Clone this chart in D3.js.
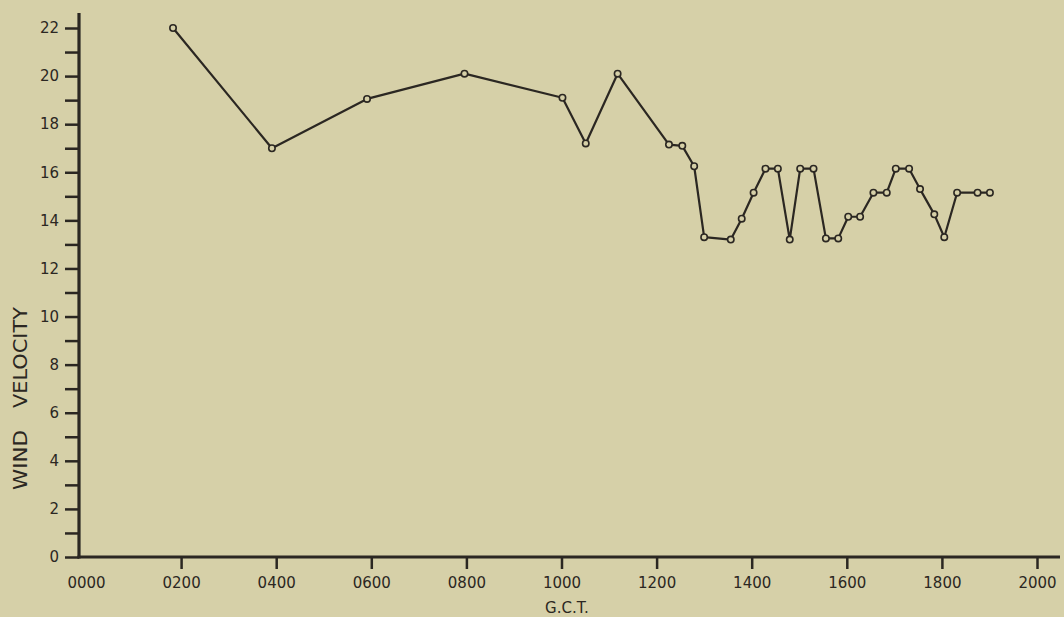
<!DOCTYPE html>
<html>
<head>
<meta charset="utf-8">
<script src="https://cdn.jsdelivr.net/npm/d3@7"></script>
<style>
  html, body { margin: 0; padding: 0; background: #d6d0a8; }
  svg { display: block; }
  text { font-family: "DejaVu Sans", sans-serif; fill: #2b2722; }
</style>
</head>
<body>
<svg id="chart" width="1064" height="617"></svg>
<script>
// Time of observation, hours G.C.T.
const hours = [1.83, 3.91, 5.91, 7.96, 10.02, 10.51, 11.18, 12.26, 12.54, 12.79,
  13.0, 13.56, 13.79, 14.04, 14.29, 14.55, 14.80, 15.02, 15.30, 15.56,
  15.82, 16.03, 16.28, 16.56, 16.84, 17.03, 17.31, 17.54, 17.84, 18.05,
  18.32, 18.75, 19.01];
// Wind velocity
const velocity = [22, 17, 19.05, 20.1, 19.1, 17.2, 20.1, 17.15, 17.1, 16.25,
  13.3, 13.2, 14.07, 15.15, 16.15, 16.15, 13.2, 16.15, 16.15, 13.25,
  13.25, 14.15, 14.15, 15.15, 15.15, 16.15, 16.15, 15.3, 14.25, 13.3,
  15.15, 15.15, 15.15];
const xTicks = [0, 2, 4, 6, 8, 10, 12, 14, 16, 18, 20];
const xTickLabels = ["0000", "0200", "0400", "0600", "0800", "1000", "1200", "1400", "1600", "1800", "2000"];
const yTicks = d3.range(0, 23, 1);
const yTickLabels = ["0", "2", "4", "6", "8", "10", "12", "14", "16", "18", "20", "22"];
const xTitle = "G.C.T.";
const yTitleWords = ["WIND", "VELOCITY"];

const ink = "#2b2722";
const bg = "#d6d0a8";
const svg = d3.select("#chart");

const x = d3.scaleLinear().domain([0, 20]).range([86, 1037]);
const y = d3.scaleLinear().domain([0, 22]).range([557, 28]);

// X axis
const xAxis = d3.axisBottom(x)
  .tickValues(xTicks)
  .tickSize(12)
  .tickPadding(8)
  .tickFormat((d, i) => xTickLabels[i]);
const gx = svg.append("g").attr("transform", `translate(0,${y(0)})`).call(xAxis);
gx.select(".domain").remove();
gx.selectAll(".tick line").attr("stroke", ink).attr("stroke-width", 2.5)
  .filter(d => d === 0).remove();
gx.selectAll(".tick text").attr("font-size", 15).attr("fill", ink)
  .attr("font-family", "DejaVu Sans, sans-serif");

// Y axis
const yAxis = d3.axisLeft(y)
  .tickValues(yTicks)
  .tickSize(14)
  .tickPadding(6)
  .tickFormat(d => d % 2 === 0 ? yTickLabels[d / 2] : "");
const gy = svg.append("g").attr("transform", `translate(${x(0) - 7},0)`).call(yAxis);
gy.select(".domain").remove();
gy.selectAll(".tick line").attr("stroke", ink).attr("stroke-width", 2.5);
gy.selectAll(".tick text").attr("font-size", 15).attr("fill", ink)
  .attr("font-family", "DejaVu Sans, sans-serif");

// axis lines
svg.append("line")
  .attr("x1", x(0) - 7).attr("x2", x(0) - 7)
  .attr("y1", 13).attr("y2", y(0) + 1.5)
  .attr("stroke", ink).attr("stroke-width", 3.2);
svg.append("line")
  .attr("x1", x(0) - 8.5).attr("x2", 1060)
  .attr("y1", y(0)).attr("y2", y(0))
  .attr("stroke", ink).attr("stroke-width", 3.2);

// Titles
svg.append("text")
  .attr("x", 567).attr("y", 613)
  .attr("text-anchor", "middle")
  .attr("font-size", 15)
  .text(xTitle);
const yTitle = svg.append("text")
  .attr("transform", `translate(27,0) rotate(-90)`)
  .attr("font-size", 19);
yTitle.append("tspan")
  .attr("x", -490).attr("textLength", 60).attr("lengthAdjust", "spacingAndGlyphs")
  .text(yTitleWords[0]);
yTitle.append("tspan")
  .attr("x", -408).attr("textLength", 101).attr("lengthAdjust", "spacingAndGlyphs")
  .text(yTitleWords[1]);

// Data line
const pts = hours.map((h, i) => [h, velocity[i]]);
svg.append("path")
  .datum(pts)
  .attr("fill", "none")
  .attr("stroke", ink)
  .attr("stroke-width", 2.2)
  .attr("stroke-linejoin", "round")
  .attr("d", d3.line().x(d => x(d[0])).y(d => y(d[1])));

svg.append("g").selectAll("circle")
  .data(pts)
  .join("circle")
  .attr("cx", d => x(d[0]))
  .attr("cy", d => y(d[1]))
  .attr("r", 3.2)
  .attr("fill", bg)
  .attr("stroke", ink)
  .attr("stroke-width", 1.6);
</script>
</body>
</html>
